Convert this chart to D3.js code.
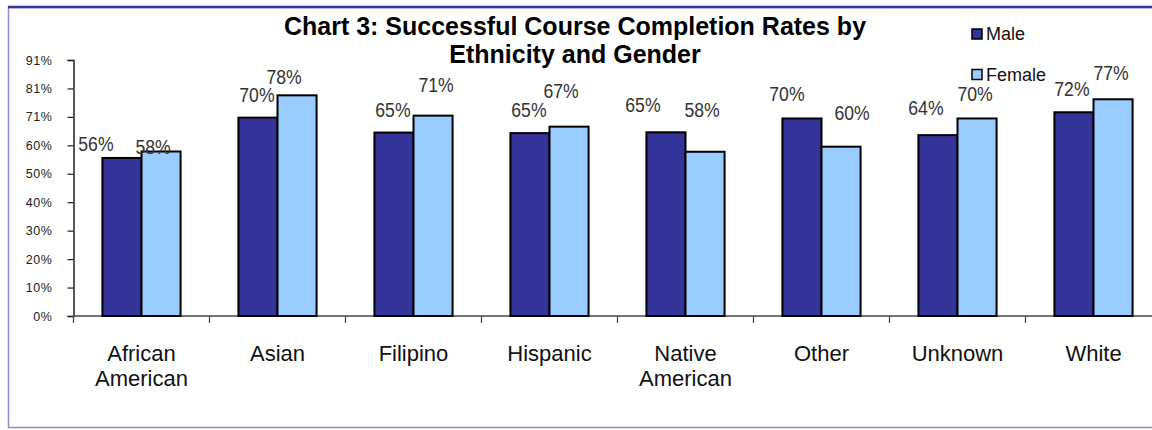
<!DOCTYPE html>
<html>
<head>
<meta charset="utf-8">
<script src="https://cdn.jsdelivr.net/npm/d3@7"></script>
<style>
  body { margin: 0; background: #fff; }
  svg { display: block; font-family: 'Liberation Sans', Arial, sans-serif; }
</style>
</head>
<body>
<svg id="chart" width="1152" height="430"></svg>
<script>
// data
const categories = ['African American', 'Asian', 'Filipino', 'Hispanic',
  'Native American', 'Other', 'Unknown', 'White'];
const series = ['Male', 'Female'];
const maleRates = [0.56, 0.703, 0.65, 0.648, 0.651, 0.70, 0.641, 0.722];
const femaleRates = [0.583, 0.782, 0.71, 0.671, 0.582, 0.60, 0.70, 0.768];
const yTickValues = [0, 0.1008, 0.2016, 0.3024, 0.4032, 0.504, 0.6048, 0.7056, 0.8064, 0.9072];
const yTickLabels = ['0%', '10%', '20%', '30%', '40%', '50%', '60%', '71%', '81%', '91%'];

// the data labels were dragged around by hand in the original, [dx, dy] from the bar top
const maleLabelNudge = [[-26, 9], [-1, 0], [-1, 0], [-1, 0], [-23, -4], [-15, -1], [-12, -4], [-2, 0]];
const femaleLabelNudge = [[-8, 19], [-13, 5], [3, -8], [-8, -13], [-3, -19], [11, -11], [-2, -1], [-2, -3]];

const conf = {
  left: 73.5,
  right: 1161.5,
  top: 60,
  bottom: 316,
  maleFill: '#333399',
  femaleFill: '#99ccff'
};

const svg = d3.select('#chart');

// outer frame, runs off the right edge like the original
svg.append('rect')
  .attr('x', 8.5)
  .attr('y', 7.5)
  .attr('width', 1200)
  .attr('height', 420)
  .attr('fill', '#fff')
  .attr('stroke', '#8c8cc8')
  .attr('stroke-width', 1.5);
svg.append('line')
  .attr('x1', 8)
  .attr('x2', 1152)
  .attr('y1', 7)
  .attr('y2', 7)
  .attr('stroke', '#333399')
  .attr('stroke-width', 2.5);

const x0 = d3.scaleBand()
  .domain(categories)
  .range([conf.left, conf.right])
  .paddingInner(0)
  .paddingOuter(0);

// two bars in the middle of each band, about 29px of air either side
const x1 = d3.scaleBand()
  .domain(series)
  .range([0, x0.bandwidth()])
  .paddingOuter(0.74)
  .paddingInner(0);

const y = d3.scaleLinear()
  .domain([0, yTickValues[yTickValues.length - 1]])
  .range([conf.bottom, conf.top]);

// y axis
const yAxis = svg.append('g')
  .attr('transform', 'translate(' + conf.left + ',0)')
  .call(d3.axisLeft(y)
    .tickValues(yTickValues)
    .tickSize(6)
    .tickPadding(15)
    .tickFormat((d, i) => yTickLabels[i]));
yAxis.select('.domain').attr('stroke', '#222').attr('stroke-width', 1.5);
yAxis.selectAll('.tick line').attr('stroke', '#222').attr('stroke-width', 1.2);
yAxis.selectAll('.tick text')
  .attr('font-family', "'Liberation Sans', Arial, sans-serif")
  .attr('font-size', 12.5)
  .attr('letter-spacing', 0.6)
  .attr('fill', '#222');

// x axis: ticks sit on the band edges
const edges = categories.map(c => x0(c)).concat([conf.right]);
const xAxis = svg.append('g');
xAxis.append('line')
  .attr('x1', conf.left)
  .attr('x2', conf.right)
  .attr('y1', conf.bottom)
  .attr('y2', conf.bottom)
  .attr('stroke', '#444')
  .attr('stroke-width', 1.5);
xAxis.selectAll('line.edge')
  .data(edges)
  .enter()
  .append('line')
  .attr('class', 'edge')
  .attr('x1', d => d)
  .attr('x2', d => d)
  .attr('y1', conf.bottom)
  .attr('y2', conf.bottom + 7)
  .attr('stroke', '#444')
  .attr('stroke-width', 1.2);

const catLabels = xAxis.selectAll('text.cat')
  .data(categories)
  .enter()
  .append('text')
  .attr('class', 'cat')
  .attr('text-anchor', 'middle')
  .attr('font-size', 22)
  .attr('fill', '#111')
  .attr('x', d => x0(d) + x0.bandwidth() / 2)
  .attr('y', 361);
catLabels.each(function(d) {
  const words = d.split(' ');
  const t = d3.select(this);
  words.forEach((w, i) => {
    t.append('tspan')
      .attr('x', x0(d) + x0.bandwidth() / 2)
      .attr('dy', i === 0 ? 0 : 24.5)
      .text(w);
  });
});

// bars
const rows = categories.map((c, i) => ({
  category: c,
  values: [
    { key: 'Male', value: maleRates[i], nudge: maleLabelNudge[i] },
    { key: 'Female', value: femaleRates[i], nudge: femaleLabelNudge[i] }
  ]
}));

const groups = svg.selectAll('g.group')
  .data(rows)
  .enter()
  .append('g')
  .attr('class', 'group')
  .attr('transform', d => 'translate(' + x0(d.category) + ',0)');

groups.selectAll('rect')
  .data(d => d.values)
  .enter()
  .append('rect')
  .attr('x', d => x1(d.key))
  .attr('y', d => y(d.value))
  .attr('width', x1.bandwidth())
  .attr('height', d => conf.bottom - y(d.value))
  .attr('fill', d => (d.key === 'Male' ? conf.maleFill : conf.femaleFill))
  .attr('stroke', '#000')
  .attr('stroke-width', 2);

// labels are squeezed sideways in the original (narrow face)
const pct = d3.format('.0%');
groups.selectAll('text.val')
  .data(d => d.values)
  .enter()
  .append('text')
  .attr('class', 'val')
  .attr('text-anchor', 'middle')
  .attr('font-size', 21)
  .attr('fill', '#333')
  .attr('transform', d =>
    'translate(' + (x1(d.key) + x1.bandwidth() / 2 + d.nudge[0]) + ',' +
    (y(d.value) - 16 + d.nudge[1]) + ') scale(0.84,1)')
  .text(d => pct(d.value));

// title
const title = svg.append('text')
  .attr('text-anchor', 'middle')
  .attr('font-size', 25)
  .attr('font-weight', 'bold')
  .attr('fill', '#000');
title.append('tspan').attr('x', 575).attr('y', 35)
  .text('Chart 3: Successful Course Completion Rates by');
title.append('tspan').attr('x', 575).attr('y', 63)
  .text('Ethnicity and Gender');

// legend
const legend = svg.append('g').attr('transform', 'translate(972,29)');
const legendItems = legend.selectAll('g')
  .data(series)
  .enter()
  .append('g')
  .attr('transform', (d, i) => 'translate(0,' + i * 40.5 + ')');
legendItems.append('rect')
  .attr('width', 10)
  .attr('height', 10)
  .attr('fill', d => (d === 'Male' ? conf.maleFill : conf.femaleFill))
  .attr('stroke', '#000')
  .attr('stroke-width', 1.5);
legendItems.append('text')
  .attr('x', 14)
  .attr('y', 11)
  .attr('font-size', 18)
  .attr('fill', '#111')
  .text(d => d);
</script>
</body>
</html>
